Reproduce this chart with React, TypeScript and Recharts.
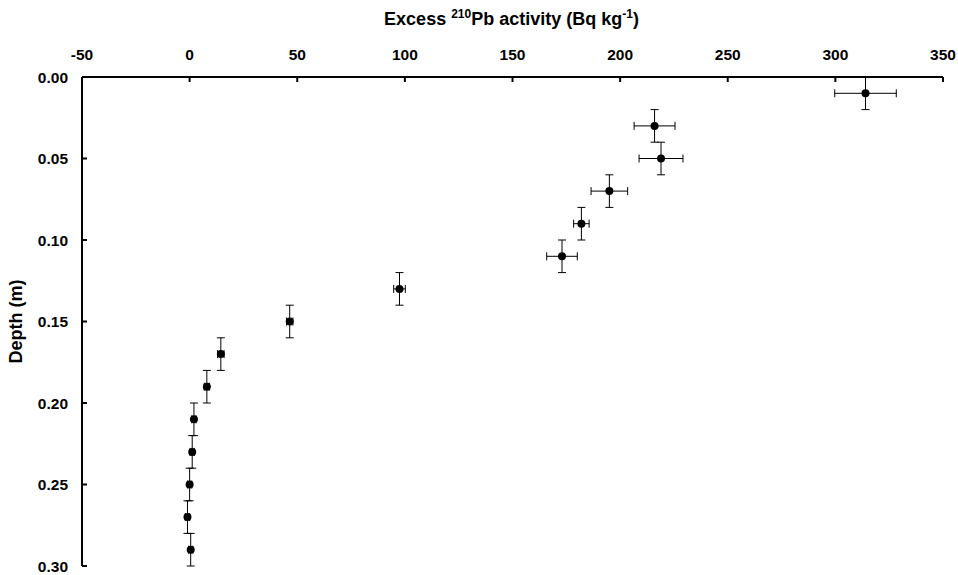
import { ErrorBar, Scatter, ScatterChart, XAxis, YAxis } from "recharts";

const depth = [0.01, 0.03, 0.05, 0.07, 0.09, 0.11, 0.13, 0.15, 0.17, 0.19, 0.21, 0.23, 0.25, 0.27, 0.29];
const activity = [314, 216, 219, 195, 182, 173, 97.5, 46.5, 14.5, 8, 2, 1.2, 0, -1, 0.5];
const activityErr = [14.3, 9.5, 10.2, 8.5, 3.6, 7.1, 2.7, 1.5, 1.5, 1.2, 1, 1, 1, 1, 1];
const depthErr = [0.01, 0.01, 0.01, 0.01, 0.01, 0.01, 0.01, 0.01, 0.01, 0.01, 0.01, 0.01, 0.01, 0.01, 0.01];

const xTicks = [-50, 0, 50, 100, 150, 200, 250, 300, 350];
const yTicks = [0, 0.05, 0.1, 0.15, 0.2, 0.25, 0.3];

const data = depth.map((d, i) => ({
  depth: d,
  activity: activity[i],
  xErr: activityErr[i],
  yErr: depthErr[i],
}));

const FONT = "'Liberation Sans', Arial, sans-serif";
const tickStyle = { fontSize: 15.5, fontWeight: 700, fill: "#000", fontFamily: FONT };

function XTitle(props: any) {
  const vb = props.viewBox ?? {};
  const cx = (vb.x ?? 0) + (vb.width ?? 0) / 2;
  return (
    <text x={cx - 1} y={25} textAnchor="middle" fontFamily={FONT} fontWeight={700} fontSize={18} fill="#000">
      <tspan>Excess </tspan>
      <tspan fontSize={12} dy={-7}>210</tspan>
      <tspan dy={7}>Pb activity (Bq kg</tspan>
      <tspan fontSize={12} dy={-7}>-1</tspan>
      <tspan dy={7}>)</tspan>
    </text>
  );
}

function YTitle(props: any) {
  const vb = props.viewBox ?? {};
  const cy = (vb.y ?? 0) + (vb.height ?? 0) / 2;
  return (
    <text
      x={22}
      y={cy}
      transform={`rotate(-90 22 ${cy})`}
      textAnchor="middle"
      fontFamily={FONT}
      fontWeight={700}
      fontSize={18}
      fill="#000"
    >
      Depth (m)
    </text>
  );
}

const dot = (p: any) => <circle cx={p.cx} cy={p.cy} r={4} fill="#000" />;

export default function App() {
  return (
    <div style={{ position: "absolute", left: 0, top: 0, background: "#fff" }}>
      <ScatterChart width={958} height={575} margin={{ top: 0, right: 15, bottom: 9, left: 0 }}>
        <XAxis
          type="number"
          dataKey="activity"
          orientation="top"
          domain={[-50, 350]}
          ticks={xTicks}
          height={77}
          tick={tickStyle}
          tickSize={-5}
          tickMargin={22}
          axisLine={{ stroke: "#000", strokeWidth: 2 }}
          tickLine={{ stroke: "#000", strokeWidth: 2 }}
          label={<XTitle />}
        />
        <YAxis
          type="number"
          dataKey="depth"
          reversed
          domain={[0, 0.3]}
          ticks={yTicks}
          width={82}
          tick={tickStyle}
          tickFormatter={(v: number) => v.toFixed(2)}
          tickSize={-5}
          tickMargin={19}
          axisLine={{ stroke: "#000", strokeWidth: 2 }}
          tickLine={{ stroke: "#000", strokeWidth: 2 }}
          label={<YTitle />}
        />
        <Scatter data={data} fill="#000" shape={dot} isAnimationActive={false}>
          <ErrorBar dataKey="xErr" direction="x" width={4} stroke="#000" strokeWidth={1} />
          <ErrorBar dataKey="yErr" direction="y" width={4} stroke="#000" strokeWidth={1} />
        </Scatter>
      </ScatterChart>
    </div>
  );
}
